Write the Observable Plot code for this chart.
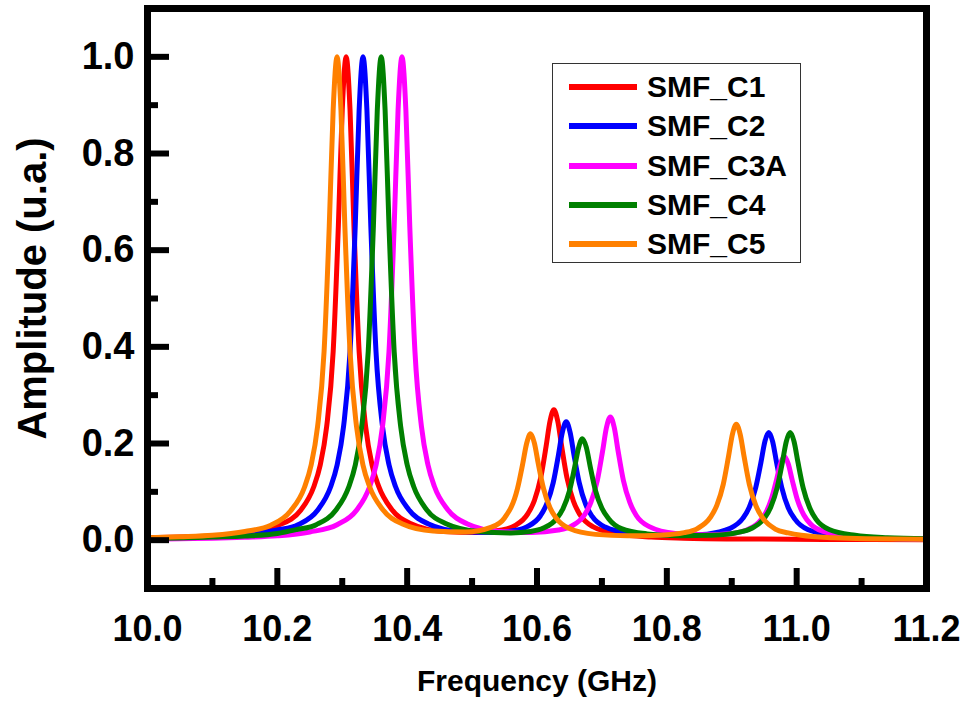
<!DOCTYPE html>
<html><head><meta charset="utf-8">
<script src="https://cdn.jsdelivr.net/npm/d3@7"></script>
<script src="https://cdn.jsdelivr.net/npm/@observablehq/plot@0.6"></script>
<style>
body{margin:0;background:#fff;}
#wrap{position:relative;width:966px;height:702px;font-family:"Liberation Sans",Arial,sans-serif;font-weight:bold;}
#legend{position:absolute;left:552px;top:63px;width:249px;height:200px;border:1.5px solid #333;box-sizing:border-box;background:#fff;}
.item{position:absolute;left:16px;height:40px;display:flex;align-items:center;}
.sw{width:68px;height:6px;margin-right:10px;}
.lb{font-size:30px;font-weight:bold;color:#000;line-height:40px;}
</style></head>
<body><div id="wrap"></div>
<script>
// Series names and colours
const seriesNames = ["SMF_C1","SMF_C2","SMF_C3A","SMF_C4","SMF_C5"];
const seriesColors = ["#ff0000","#0000ff","#ff00ff","#008000","#ff8000"];

// [frequency GHz, amplitude]
const smfC1 = [[10.00,0.005],[10.05,0.0065],[10.10,0.0087],[10.15,0.0143],[10.20,0.030],[10.236,0.062],[10.256,0.11],[10.266,0.155],[10.276,0.235],[10.286,0.39],[10.294,0.65],[10.300,0.89],[10.306,1.0],[10.312,0.89],[10.318,0.65],[10.326,0.39],[10.336,0.235],[10.346,0.155],[10.356,0.112],[10.376,0.064],[10.406,0.034],[10.456,0.018],[10.506,0.016],[10.546,0.021],[10.566,0.030],[10.586,0.055],[10.596,0.082],[10.606,0.131],[10.614,0.194],[10.620,0.246],[10.626,0.27],[10.632,0.246],[10.638,0.194],[10.646,0.130],[10.656,0.081],[10.666,0.053],[10.686,0.028],[10.726,0.0125],[10.776,0.0065],[10.826,0.0042],[10.926,0.0024],[11.05,0.0015],[11.2,0.001]];

const smfC2 = [[10.00,0.004],[10.05,0.005],[10.10,0.008],[10.15,0.011],[10.20,0.021],[10.232,0.032],[10.262,0.062],[10.282,0.11],[10.292,0.155],[10.302,0.235],[10.312,0.39],[10.320,0.65],[10.326,0.89],[10.332,1.0],[10.338,0.89],[10.344,0.65],[10.352,0.39],[10.362,0.235],[10.372,0.156],[10.382,0.111],[10.402,0.064],[10.432,0.034],[10.482,0.018],[10.532,0.016],[10.565,0.020],[10.585,0.028],[10.605,0.050],[10.615,0.075],[10.625,0.119],[10.633,0.176],[10.639,0.223],[10.645,0.245],[10.651,0.223],[10.657,0.176],[10.665,0.119],[10.675,0.074],[10.685,0.049],[10.705,0.027],[10.745,0.014],[10.795,0.010],[10.847,0.011],[10.877,0.016],[10.897,0.024],[10.917,0.045],[10.927,0.068],[10.937,0.109],[10.945,0.161],[10.951,0.204],[10.957,0.223],[10.963,0.204],[10.969,0.161],[10.977,0.109],[10.987,0.067],[10.997,0.044],[11.017,0.022],[11.057,0.010],[11.107,0.005],[11.157,0.003],[11.2,0.002]];

const smfC3A = [[10.00,0.002],[10.05,0.003],[10.10,0.004],[10.15,0.006],[10.20,0.009],[10.25,0.017],[10.292,0.032],[10.322,0.062],[10.342,0.11],[10.352,0.155],[10.362,0.235],[10.372,0.39],[10.380,0.65],[10.386,0.89],[10.392,1.0],[10.398,0.89],[10.404,0.65],[10.412,0.39],[10.422,0.235],[10.432,0.156],[10.442,0.111],[10.462,0.064],[10.492,0.034],[10.542,0.018],[10.592,0.016],[10.633,0.021],[10.653,0.029],[10.673,0.052],[10.683,0.078],[10.693,0.124],[10.701,0.184],[10.707,0.233],[10.713,0.255],[10.719,0.233],[10.725,0.184],[10.733,0.124],[10.743,0.078],[10.753,0.051],[10.773,0.028],[10.813,0.014],[10.861,0.011],[10.901,0.014],[10.921,0.020],[10.941,0.036],[10.951,0.053],[10.961,0.085],[10.969,0.125],[10.975,0.158],[10.981,0.173],[10.987,0.158],[10.993,0.125],[11.001,0.084],[11.011,0.052],[11.021,0.034],[11.041,0.018],[11.081,0.008],[11.131,0.004],[11.2,0.002]];

const smfC4 = [[10.00,0.0035],[10.05,0.0043],[10.10,0.0063],[10.15,0.0085],[10.20,0.0138],[10.23,0.022],[10.26,0.032],[10.29,0.062],[10.31,0.11],[10.32,0.155],[10.33,0.235],[10.34,0.39],[10.348,0.65],[10.354,0.89],[10.36,1.0],[10.366,0.89],[10.372,0.65],[10.38,0.39],[10.39,0.235],[10.40,0.156],[10.41,0.111],[10.43,0.063],[10.46,0.034],[10.51,0.018],[10.56,0.015],[10.59,0.018],[10.61,0.025],[10.63,0.044],[10.64,0.065],[10.65,0.102],[10.658,0.151],[10.664,0.191],[10.670,0.21],[10.676,0.192],[10.682,0.152],[10.69,0.103],[10.70,0.066],[10.71,0.045],[10.73,0.024],[10.77,0.013],[10.82,0.009],[10.87,0.010],[10.91,0.016],[10.93,0.024],[10.95,0.045],[10.96,0.068],[10.97,0.109],[10.978,0.161],[10.984,0.204],[10.99,0.223],[10.996,0.204],[11.002,0.161],[11.01,0.108],[11.02,0.067],[11.03,0.043],[11.05,0.022],[11.09,0.010],[11.14,0.005],[11.2,0.003]];

const smfC5 = [[10.00,0.005],[10.05,0.007],[10.10,0.010],[10.15,0.018],[10.19,0.031],[10.22,0.060],[10.242,0.11],[10.252,0.155],[10.262,0.235],[10.272,0.39],[10.280,0.65],[10.286,0.89],[10.292,1.0],[10.298,0.89],[10.304,0.65],[10.312,0.39],[10.322,0.235],[10.332,0.155],[10.342,0.111],[10.362,0.064],[10.392,0.034],[10.44,0.019],[10.49,0.017],[10.53,0.027],[10.55,0.046],[10.57,0.107],[10.578,0.158],[10.584,0.200],[10.590,0.22],[10.596,0.201],[10.602,0.158],[10.61,0.107],[10.62,0.067],[10.63,0.045],[10.65,0.024],[10.69,0.012],[10.74,0.009],[10.79,0.0104],[10.827,0.0156],[10.847,0.024],[10.867,0.047],[10.877,0.072],[10.887,0.116],[10.895,0.173],[10.901,0.219],[10.907,0.24],[10.913,0.219],[10.919,0.173],[10.927,0.116],[10.937,0.072],[10.947,0.047],[10.967,0.023],[10.987,0.015],[11.007,0.010],[11.057,0.005],[11.107,0.003],[11.2,0.002]];

// Axis ticks
const xMajor = [10.0,10.2,10.4,10.6,10.8,11.0,11.2];
const xMinor = [10.1,10.3,10.5,10.7,10.9,11.1];
const yMajor = [0.0,0.2,0.4,0.6,0.8,1.0];
const yMinor = [0.1,0.3,0.5,0.7,0.9];

const seriesData = [smfC1, smfC2, smfC3A, smfC4, smfC5];
const rows = seriesData.flatMap((arr, i) => arr.map(([f, a]) => ({series: seriesNames[i], f, a})));

const W = 966, H = 702, mt = 8, mr = 40, mb = 114, ml = 147;
const innerW = W - ml - mr, innerH = H - mt - mb;

const chart = Plot.plot({
  width: W, height: H,
  marginTop: mt, marginRight: mr, marginBottom: mb, marginLeft: ml,
  style: {fontFamily: '"Liberation Sans", Arial, sans-serif', fontWeight: "bold", color: "#000", background: "#fff"},
  x: {domain: [10.0, 11.2]},
  y: {domain: [-0.1, 1.1]},
  color: {domain: seriesNames, range: seriesColors},
  marks: [
    Plot.line(rows, {x: "f", y: "a", z: "series", stroke: "series", strokeWidth: 5, curve: "monotone-x"}),
    Plot.tickX(xMajor, {x: d => d, stroke: "#000", strokeWidth: 6, insetTop: innerH - 20}),
    Plot.tickX(xMinor, {x: d => d, stroke: "#000", strokeWidth: 6, insetTop: innerH - 10}),
    Plot.tickY(yMajor, {y: d => d, stroke: "#000", strokeWidth: 6, insetRight: innerW - 22}),
    Plot.tickY(yMinor, {y: d => d, stroke: "#000", strokeWidth: 6, insetRight: innerW - 11}),
    Plot.frame({stroke: "#000", strokeWidth: 7}),
    Plot.axisX({ticks: xMajor, tickSize: 0, tickPadding: 27, tickFormat: d3.format(".1f"), fontSize: 36, fontWeight: "bold", label: null}),
    Plot.axisY({ticks: yMajor, tickSize: 0, tickPadding: 13, tickFormat: d3.format(".1f"), fontSize: 38, fontWeight: "bold", label: null}),
    Plot.text(["Frequency (GHz)"], {frameAnchor: "bottom", dy: 102, fontSize: 30, fontWeight: "bold", fill: "#000", textAnchor: "middle"}),
    Plot.text(["Amplitude (u.a.)"], {frameAnchor: "left", dx: -114, dy: -10, rotate: -90, textAnchor: "middle", fontSize: 40, fontWeight: "bold", fill: "#000"})
  ]
});

const wrap = document.getElementById("wrap");
wrap.appendChild(chart);

const legend = document.createElement("div");
legend.id = "legend";
seriesNames.forEach((name, i) => {
  const it = document.createElement("div");
  it.className = "item";
  it.style.top = (3 + i * 39.3) + "px";
  const sw = document.createElement("div");
  sw.className = "sw";
  sw.style.background = seriesColors[i];
  const lb = document.createElement("span");
  lb.className = "lb";
  lb.textContent = name;
  it.appendChild(sw); it.appendChild(lb);
  legend.appendChild(it);
});
wrap.appendChild(legend);
</script>
</body></html>
